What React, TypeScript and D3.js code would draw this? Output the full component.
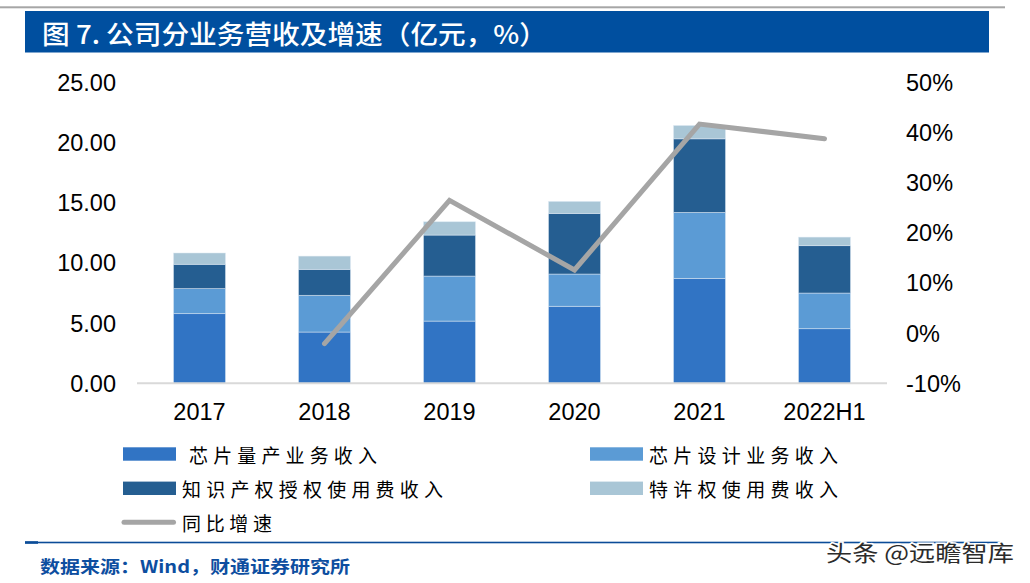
import React from "react";
import * as d3 from "d3";

const categories = ["2017", "2018", "2019", "2020", "2021", "2022H1"];
const massProduction = [5.79, 4.26, 5.17, 6.40, 8.72, 4.54];
const chipDesign = [2.08, 3.05, 3.74, 2.68, 5.48, 2.96];
const ipLicense = [2.02, 2.16, 3.41, 5.04, 6.12, 3.94];
const royalty = [0.94, 1.10, 1.11, 1.00, 1.11, 0.71];
const growth: (number | null)[] = [null, -2.1, 26.5, 12.6, 41.7, 38.8];
const leftTicks = [0, 5, 10, 15, 20, 25];
const rightTicks = [-10, 0, 10, 20, 30, 40, 50];

const seriesNames = ["芯片量产业务收入", "芯片设计业务收入", "知识产权授权使用费收入", "特许权使用费收入"];
const seriesColors = ["#3174C4", "#5B9BD5", "#255E91", "#A9C6D6"];
const lineName = "同比增速";
const lineColor = "#A5A5A5";

const W = 1030;
const H = 583;
const plotLeft = 137;
const plotRight = 887;
const yTop = 82.5;
const yBottom = 383.3;
const NUM = "'Liberation Sans', Arial, sans-serif";
const CJK = "'Noto Sans CJK SC', 'Noto Sans', sans-serif";

export default function App() {
  const x = d3.scaleBand<string>().domain(categories).range([plotLeft, plotRight]).paddingInner(0.584).paddingOuter(0.292);
  const yL = d3.scaleLinear().domain([0, 25]).range([yBottom, yTop]);
  const yR = d3.scaleLinear().domain([-10, 50]).range([yBottom, yTop]);

  const rows = categories.map((c, i) => ({
    cat: c,
    s0: massProduction[i],
    s1: chipDesign[i],
    s2: ipLicense[i],
    s3: royalty[i],
  }));
  const stack = d3.stack<any>().keys(["s0", "s1", "s2", "s3"])(rows);

  const linePts = categories
    .map((c, i) => ({ c, v: growth[i] }))
    .filter((d) => d.v !== null) as { c: string; v: number }[];
  const lineGen = d3
    .line<{ c: string; v: number }>()
    .x((d) => (x(d.c) as number) + x.bandwidth() / 2)
    .y((d) => yR(d.v));

  const fmtL = d3.format(".2f");

  const legendItems = [
    { name: seriesNames[0], color: seriesColors[0], x: 123, y: 454, tx: 189, tl: 188 },
    { name: seriesNames[1], color: seriesColors[1], x: 590, y: 454, tx: 649, tl: 189 },
    { name: seriesNames[2], color: seriesColors[2], x: 123, y: 488.3, tx: 182, tl: 261 },
    { name: seriesNames[3], color: seriesColors[3], x: 590, y: 488.3, tx: 649, tl: 189 },
  ];

  return (
    <svg width={W} height={H} style={{ position: "absolute", left: 0, top: 0, background: "#fff" }}>
      {/* top rule */}
      <rect x={0} y={6.3} width={1005} height={2} fill="#A6A6A6" />
      {/* title bar */}
      <rect x={25} y={11} width={964} height={41.5} fill="#004F9F" />
      <text
        x={42}
        y={32}
        dominantBaseline="central"
        fill="#fff"
        fontFamily={CJK}
        fontWeight={500}
        fontSize={26}
        textLength={505}
        lengthAdjust="spacingAndGlyphs"
      >
        图 7. 公司分业务营收及增速（亿元，%）
      </text>

      {/* bars */}
      {stack.map((layer, si) => (
        <g key={si} fill={seriesColors[si]}>
          {layer.map((d, i) => (
            <rect
              key={i}
              x={x(categories[i])}
              y={yL(d[1])}
              width={x.bandwidth()}
              height={yL(d[0]) - yL(d[1])}
              stroke="rgba(225,235,245,0.6)"
              strokeWidth={0.8}
            />
          ))}
        </g>
      ))}

      {/* x axis line */}
      <line x1={plotLeft} x2={plotRight} y1={yBottom} y2={yBottom} stroke="#D9D9D9" strokeWidth={2} />

      {/* growth line */}
      <path
        d={lineGen(linePts) || ""}
        fill="none"
        stroke={lineColor}
        strokeWidth={5}
        strokeLinejoin="miter"
        strokeLinecap="round"
      />

      {/* left axis labels */}
      {leftTicks.map((t) => (
        <text key={t} x={116} y={yL(t) + 8.4} textAnchor="end" fontFamily={NUM} fontSize={23.5} fill="#000">
          {fmtL(t)}
        </text>
      ))}
      {/* right axis labels */}
      {rightTicks.map((t) => (
        <text key={t} x={906} y={yR(t) + 8.4} textAnchor="start" fontFamily={NUM} fontSize={23.5} fill="#000">
          {t}%
        </text>
      ))}
      {/* category labels */}
      {categories.map((c) => (
        <text
          key={c}
          x={(x(c) as number) + x.bandwidth() / 2}
          y={419.5}
          textAnchor="middle"
          fontFamily={NUM}
          fontSize={23.5}
          fill="#000"
        >
          {c}
        </text>
      ))}

      {/* legend */}
      {legendItems.map((l) => (
        <g key={l.name}>
          <rect x={l.x} y={l.y - 6.7} width={53} height={13.4} fill={l.color} />
          <text
            x={l.tx}
            y={l.y}
            dominantBaseline="central"
            fontFamily={CJK}
            fontSize={19}
            fill="#000"
            textLength={l.tl}
            lengthAdjust="spacing"
          >
            {l.name}
          </text>
        </g>
      ))}
      <line x1={124} x2={173.5} y1={522.3} y2={522.3} stroke={lineColor} strokeWidth={5} strokeLinecap="round" />
      <text
        x={182}
        y={522}
        dominantBaseline="central"
        fontFamily={CJK}
        fontSize={19}
        fill="#000"
        textLength={90}
        lengthAdjust="spacing"
      >
        {lineName}
      </text>

      {/* footer */}
      <rect x={25} y={541.7} width={975} height={1.6} fill="#0B4C98" />
      <rect x={25} y={541.2} width={13} height={2.6} fill="#0B4C98" />
      <text
        x={40}
        y={565}
        dominantBaseline="central"
        fontFamily={CJK}
        fontWeight={700}
        fontSize={17}
        fill="#0D4EA0"
        textLength={310}
        lengthAdjust="spacingAndGlyphs"
      >
        数据来源：Wind，财通证券研究所
      </text>
      <text
        x={826}
        y={551}
        dominantBaseline="central"
        fontFamily={CJK}
        fontSize={22}
        fill="#2b2b2b"
        stroke="#fff"
        strokeWidth={3}
        paintOrder="stroke"
        textLength={188}
        lengthAdjust="spacingAndGlyphs"
      >
        头条 @远瞻智库
      </text>
    </svg>
  );
}
